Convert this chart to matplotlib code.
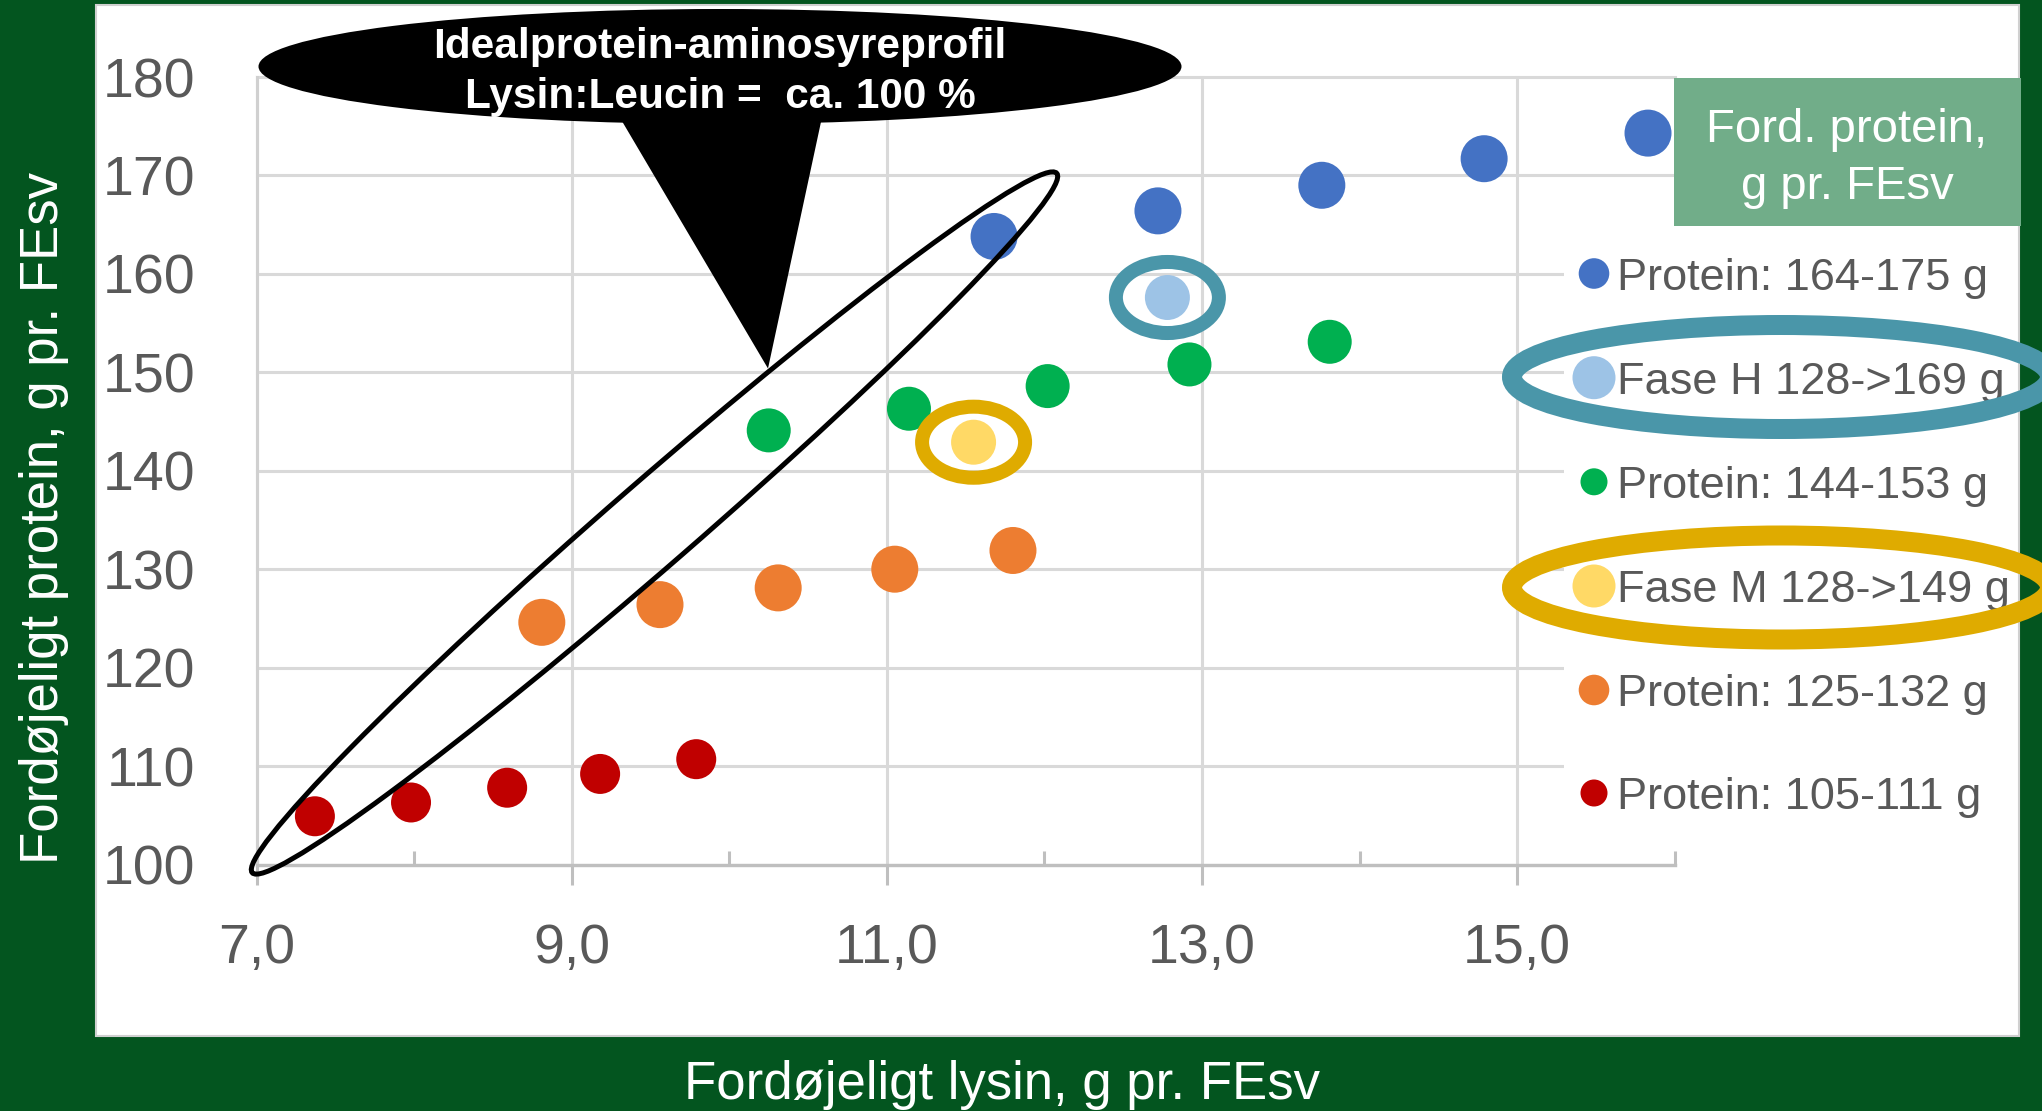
import matplotlib
matplotlib.use('Agg')
import matplotlib.pyplot as plt
from matplotlib.patches import Ellipse, Polygon, Rectangle
from matplotlib.path import Path

# --- data ---
blue_x = [11.68, 12.72, 13.76, 14.79, 15.83]
blue_y = [163.8, 166.4, 169.0, 171.7, 174.3]
faseh_x = [12.78]
faseh_y = [157.6]
green_x = [10.25, 11.14, 12.02, 12.92, 13.81]
green_y = [144.1, 146.3, 148.6, 150.8, 153.1]
fasem_x = [11.55]
fasem_y = [142.9]
orange_x = [8.81, 9.56, 10.31, 11.05, 11.80]
orange_y = [124.6, 126.4, 128.1, 130.0, 131.9]
red_x = [7.37, 7.98, 8.59, 9.18, 9.79]
red_y = [104.9, 106.3, 107.8, 109.2, 110.7]

labels = ["Protein: 164-175 g", "Fase H 128->169 g", "Protein: 144-153 g",
          "Fase M 128->149 g", "Protein: 125-132 g", "Protein: 105-111 g"]
colors = ["#4472C4", "#9DC3E6", "#00B050", "#FFD966", "#ED7D31", "#C00000"]

x_major = [7, 9, 11, 13, 15]
x_minor = [8, 10, 12, 14, 16]
x_ticklabels = ["7,0", "9,0", "11,0", "13,0", "15,0"]
y_ticks = [100, 110, 120, 130, 140, 150, 160, 170, 180]

W, H = 2042, 1111
PT = 0.72  # points per pixel at dpi 100
DARK_GREEN = "#03551F"
GREY_TXT = "#595959"
TEAL = "#4A96A9"
GOLD = "#DFAB00"

plt.rcParams['font.family'] = ['Liberation Sans', 'DejaVu Sans']

fig = plt.figure(figsize=(W / 100, H / 100), dpi=100, facecolor=DARK_GREEN)

# white chart panel
fig.add_artist(Rectangle((96 / W, 1 - 1036 / H), (2019 - 96) / W, (1036 - 5) / H,
                         transform=fig.transFigure, facecolor="white",
                         edgecolor="#D0D0D0", lw=1.5, zorder=-10))

# main axes
left, right, top, bottom = 256.6, 1674.8, 77.0, 864.5
ax = fig.add_axes([left / W, 1 - bottom / H, (right - left) / W, (bottom - top) / H])
ax.set_facecolor("none")
ax.set_xlim(7, 16)
ax.set_ylim(100, 180)
ax.set_xticks(x_major)
ax.set_xticklabels(x_ticklabels)
ax.set_xticks(x_minor, minor=True)
ax.set_yticks(y_ticks)
ax.grid(True, which='major', color="#D9D9D9", lw=2.2)
for gl in ax.get_ygridlines() + ax.get_xgridlines():
    gl.set_clip_on(False)
ax.set_axisbelow(True)
for s in ("top", "right"):
    ax.spines[s].set_visible(False)
ax.spines["bottom"].set_color("#BFBFBF")
ax.spines["bottom"].set_linewidth(2.4)
ax.spines["left"].set_color("#D0D0D0")
ax.spines["left"].set_linewidth(2.2)
ax.tick_params(axis='x', which='major', direction='out', length=20 * PT, width=2.2,
               color="#BFBFBF", pad=27.5, labelsize=40, labelcolor=GREY_TXT)
ax.tick_params(axis='x', which='minor', direction='in', length=14 * PT, width=2.2,
               color="#BFBFBF")
ax.tick_params(axis='y', length=0, pad=44, labelsize=40, labelcolor=GREY_TXT)

series = [
    (blue_x, blue_y, colors[0], 47),
    (faseh_x, faseh_y, colors[1], 45),
    (green_x, green_y, colors[2], 44),
    (fasem_x, fasem_y, colors[3], 45),
    (orange_x, orange_y, colors[4], 47),
    (red_x, red_y, colors[5], 40),
]
for xs, ys, c, d in series:
    ax.scatter(xs, ys, s=(d * PT) ** 2, color=c, edgecolors="none", zorder=3)

# elliptical rings around the two phase points
circ = Path.unit_circle()
ring = Path(circ.vertices * [1.0, 0.69], circ.codes)
ax.scatter(faseh_x, faseh_y, marker=ring, s=(103 * PT) ** 2, facecolors="none",
           edgecolors=TEAL, linewidths=14 * PT, zorder=4)
ax.scatter(fasem_x, fasem_y, marker=ring, s=(103 * PT) ** 2, facecolors="none",
           edgecolors=GOLD, linewidths=14 * PT, zorder=4)

# overlay in pixel coordinates for annotations
ov = fig.add_axes([0, 0, 1, 1], zorder=5)
ov.set_xlim(0, W)
ov.set_ylim(H, 0)
ov.axis("off")

# ideal-profile ellipse
ov.add_patch(Ellipse((654.5, 523), 1066, 84, angle=-41.0, fill=False,
                     edgecolor="black", lw=3.6, zorder=6))

# callout
ov.add_patch(Ellipse((720, 66.5), 923, 115, facecolor="black", edgecolor="none", zorder=7))
ov.add_patch(Polygon([(609.5, 100), (825.7, 100), (768, 368.5)], closed=True,
                     facecolor="black", edgecolor="none", zorder=7))
ov.text(720, 58, "Idealprotein-aminosyreprofil", ha="center", va="baseline",
        fontsize=30.5, fontweight="bold", color="white", zorder=8)
ov.text(720, 108, "Lysin:Leucin =  ca. 100 %", ha="center", va="baseline",
        fontsize=30.5, fontweight="bold", color="white", zorder=8)

# legend area
ov.add_patch(Rectangle((1564, 232), 2015 - 1564, 840 - 232, facecolor="white",
                       edgecolor="none", zorder=1))
ov.add_patch(Rectangle((1674, 78), 347, 148, facecolor="#71AD89", edgecolor="none", zorder=2))
ov.text(1847, 142.5, "Ford. protein,", ha="center", va="baseline", fontsize=34,
        color="white", zorder=3)
ov.text(1847, 199, "g pr. FEsv", ha="center", va="baseline", fontsize=34,
        color="white", zorder=3)

rows = [273.5, 377.7, 481.8, 586.0, 690.0, 793.0]
leg_sizes = [30.6, 43, 27, 43, 30.6, 27]
for r, lab, c, d in zip(rows, labels, colors, leg_sizes):
    ov.scatter([1594], [r], s=(d * PT) ** 2, color=c, edgecolors="none", zorder=3)
    ov.text(1617, r + 16.3, lab, ha="left", va="baseline", fontsize=32.5,
            color=GREY_TXT, zorder=3)

ov.add_patch(Ellipse((1781, 377), 538, 104, fill=False, edgecolor=TEAL,
                     lw=20 * PT, zorder=4))
ov.add_patch(Ellipse((1781, 587.5), 538, 104, fill=False, edgecolor=GOLD,
                     lw=20 * PT, zorder=4))

# axis titles in the green frame
fig.text(1002 / W, 1 - 1099 / H, "Fordøjeligt lysin, g pr. FEsv", ha="center",
         va="baseline", fontsize=38, color="white")
fig.text(58 / W, 1 - 518 / H, "Fordøjeligt protein, g pr. FEsv", ha="center",
         va="baseline", rotation=90, rotation_mode="anchor", fontsize=38, color="white")

fig.savefig("out.png", dpi=100, facecolor=DARK_GREEN)
